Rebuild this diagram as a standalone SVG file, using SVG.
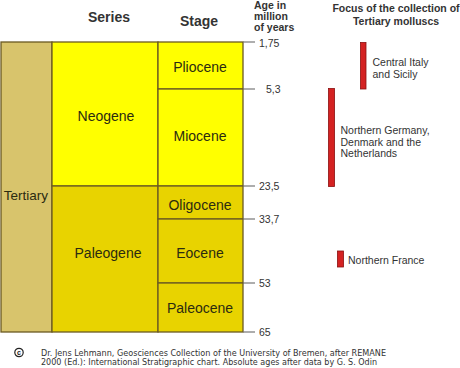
<svg xmlns="http://www.w3.org/2000/svg" width="460" height="368" viewBox="0 0 460 368">
<style>
.b{stroke:#6b5a22;stroke-width:1.3}
.t{font-family:"Liberation Sans",Arial,sans-serif;fill:#2b2b10}
.lab{font-size:14px;text-anchor:middle}
.h{font-weight:bold;fill:#333}
.n{font-size:10.5px;fill:#333}
.tick{stroke:#777;stroke-width:1.2}
.bar{fill:#d42222;stroke:#8a1010;stroke-width:0.8}
.f{font-family:"DejaVu Sans","Liberation Sans",sans-serif;font-size:8.5px;fill:#333}
</style>
<rect width="460" height="368" fill="#fff"/>
<g id="headers">
<text class="t h" x="109" y="22" font-size="14" text-anchor="middle">Series</text>
<text class="t h" x="199" y="25.5" font-size="14" text-anchor="middle">Stage</text>
<text class="t h" x="254" y="9" font-size="10.5">Age in</text>
<text class="t h" x="254" y="20" font-size="10.5">million</text>
<text class="t h" x="254" y="31" font-size="10.5">of years</text>
<text class="t h" x="396" y="12" font-size="10.5" text-anchor="middle">Focus of the collection of</text>
<text class="t h" x="396" y="24.5" font-size="10.5" text-anchor="middle">Tertiary molluscs</text>
</g>
<g id="tertiary">
<rect class="b" x="1" y="42" width="51" height="290" fill="#d8c46c"/>
<text class="t" x="26" y="199.5" font-size="13.5" text-anchor="middle">Tertiary</text>
</g>
<g id="neogene">
<rect class="b" x="52" y="42" width="106" height="144" fill="#ffff00"/>
<text class="t lab" x="106" y="121">Neogene</text>
</g>
<g id="paleogene">
<rect class="b" x="52" y="186" width="106" height="146" fill="#e8d300"/>
<text class="t lab" x="108" y="257.5">Paleogene</text>
</g>
<g id="pliocene">
<rect class="b" x="158" y="42" width="85" height="47" fill="#ffff00"/>
<text class="t lab" x="200" y="72">Pliocene</text>
</g>
<g id="miocene">
<rect class="b" x="158" y="89" width="85" height="97" fill="#ffff00"/>
<text class="t lab" x="200" y="141">Miocene</text>
</g>
<g id="oligocene">
<rect class="b" x="158" y="186" width="85" height="33" fill="#e8d300"/>
<text class="t lab" x="200" y="210">Oligocene</text>
</g>
<g id="eocene">
<rect class="b" x="158" y="219" width="85" height="64" fill="#e8d300"/>
<text class="t lab" x="200" y="257.5">Eocene</text>
</g>
<g id="paleocene">
<rect class="b" x="158" y="283" width="85" height="49" fill="#e8d300"/>
<text class="t lab" x="200" y="313">Paleocene</text>
</g>
<g id="connectors">
<line class="tick" x1="243" y1="42" x2="255" y2="42"/>
<line class="tick" x1="243" y1="89" x2="255" y2="89"/>
<line class="tick" x1="243" y1="186" x2="255" y2="186"/>
<line class="tick" x1="243" y1="219" x2="255" y2="219"/>
<line class="tick" x1="243" y1="283" x2="255" y2="283"/>
<line class="tick" x1="243" y1="332" x2="255" y2="332"/>
</g>
<g id="ages">
<text class="t n" x="259" y="46.5">1,75</text>
<text class="t n" x="266" y="93">5,3</text>
<text class="t n" x="259" y="190">23,5</text>
<text class="t n" x="259" y="223">33,7</text>
<text class="t n" x="259" y="287">53</text>
<text class="t n" x="259" y="336">65</text>
</g>
<g id="central-italy">
<rect class="bar" x="360.5" y="42.5" width="5.5" height="46.5"/>
<text class="t n" x="372.5" y="66">Central Italy</text>
<text class="t n" x="372.5" y="77.5">and Sicily</text>
</g>
<g id="northern-germany">
<rect class="bar" x="328.5" y="88.5" width="6" height="98"/>
<text class="t n" x="340.5" y="134">Northern Germany,</text>
<text class="t n" x="340.5" y="145.5">Denmark and the</text>
<text class="t n" x="340.5" y="157">Netherlands</text>
</g>
<g id="northern-france">
<rect class="bar" x="337.5" y="251" width="6" height="16"/>
<text class="t n" x="348" y="264">Northern France</text>
</g>
<g id="footer">
<circle cx="19" cy="352.5" r="4.2" fill="none" stroke="#222" stroke-width="1.2"/>
<text x="19" y="355" font-family="Liberation Sans,sans-serif" font-size="7" font-weight="bold" text-anchor="middle" fill="#222">c</text>
<text class="f" x="41" y="355.5" textLength="345" lengthAdjust="spacingAndGlyphs">Dr. Jens Lehmann, Geosciences Collection of the University of Bremen, after REMANE</text>
<text class="f" x="41" y="364.5" textLength="336" lengthAdjust="spacingAndGlyphs">2000 (Ed.): International Stratigraphic chart. Absolute ages after data by G. S. Odin</text>
</g>
</svg>
